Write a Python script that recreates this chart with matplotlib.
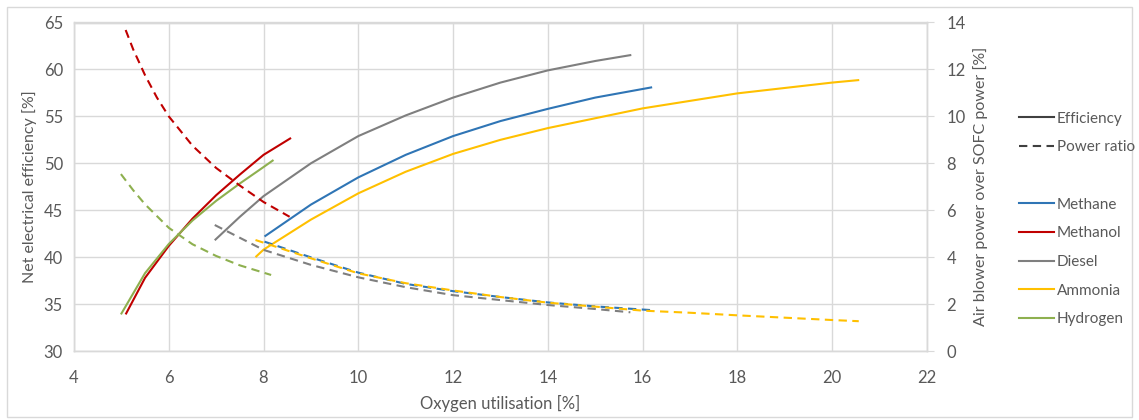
import matplotlib
matplotlib.use("Agg")
import matplotlib.pyplot as plt
from matplotlib.lines import Line2D
from matplotlib.patches import Rectangle

plt.rcParams['font.family'] = ['Lato', 'DejaVu Sans']

# ---------------- data ----------------
fuels = ["Methane", "Methanol", "Diesel", "Ammonia", "Hydrogen"]
colors = ["#2F75B5", "#C00000", "#7F7F7F", "#FFC000", "#8EB04F"]

# Net electrical efficiency [%] (left axis)
eff_methane_x = [8.02, 9, 10, 11, 12, 13, 14, 15, 16.2]
eff_methane_y = [42.2, 45.6, 48.5, 50.9, 52.9, 54.5, 55.8, 57.0, 58.1]
eff_methanol_x = [5.09, 5.5, 6.0, 6.5, 7.0, 7.5, 8.0, 8.58]
eff_methanol_y = [33.9, 37.8, 41.2, 44.1, 46.6, 48.8, 50.9, 52.7]
eff_diesel_x = [6.97, 7.5, 8, 9, 10, 11, 12, 13, 14, 15, 15.76]
eff_diesel_y = [41.8, 44.3, 46.5, 50.0, 52.9, 55.1, 57.0, 58.6, 59.9, 60.9, 61.54]
eff_ammonia_x = [7.83, 8, 9, 10, 11, 12, 13, 14, 16, 18, 20, 20.57]
eff_ammonia_y = [40.0, 40.8, 44.0, 46.8, 49.1, 51.0, 52.5, 53.75, 55.85, 57.45, 58.6, 58.87]
eff_hydrogen_x = [4.99, 5.5, 6.0, 6.5, 7.0, 7.5, 8.0, 8.21]
eff_hydrogen_y = [33.9, 38.3, 41.4, 43.9, 46.0, 47.85, 49.6, 50.35]

# Air blower power over SOFC power [%] (right axis)
pr_methane_x = [8.02, 9, 10, 11, 12, 13, 14, 15, 16.2]
pr_methane_y = [4.66, 3.99, 3.34, 2.86, 2.55, 2.3, 2.07, 1.9, 1.74]
pr_methanol_x = [5.09, 5.25, 5.5, 5.75, 6.0, 6.5, 7.0, 7.5, 8.0, 8.55]
pr_methanol_y = [13.68, 12.85, 11.75, 10.8, 10.0, 8.75, 7.8, 7.05, 6.35, 5.72]
pr_diesel_x = [6.97, 8, 9, 10, 11, 12, 13, 14, 15, 15.74]
pr_diesel_y = [5.37, 4.31, 3.67, 3.14, 2.72, 2.38, 2.17, 1.96, 1.79, 1.65]
pr_ammonia_x = [7.83, 9, 10, 11, 12, 13, 14, 16, 17, 18, 20, 20.56]
pr_ammonia_y = [4.73, 3.95, 3.31, 2.89, 2.58, 2.3, 2.06, 1.72, 1.63, 1.52, 1.32, 1.27]
pr_hydrogen_x = [4.99, 5.25, 5.5, 6.0, 6.5, 7.0, 7.5, 8.16]
pr_hydrogen_y = [7.54, 6.85, 6.25, 5.25, 4.55, 4.05, 3.65, 3.24]

eff_x = [eff_methane_x, eff_methanol_x, eff_diesel_x, eff_ammonia_x, eff_hydrogen_x]
eff_y = [eff_methane_y, eff_methanol_y, eff_diesel_y, eff_ammonia_y, eff_hydrogen_y]
pr_x = [pr_methane_x, pr_methanol_x, pr_diesel_x, pr_ammonia_x, pr_hydrogen_x]
pr_y = [pr_methane_y, pr_methanol_y, pr_diesel_y, pr_ammonia_y, pr_hydrogen_y]

x_ticks = [4, 6, 8, 10, 12, 14, 16, 18, 20, 22]
left_ticks = [30, 35, 40, 45, 50, 55, 60, 65]
right_ticks = [0, 2, 4, 6, 8, 10, 12, 14]

# ---------------- figure ----------------
W, H = 1139, 420
fig = plt.figure(figsize=(W / 100, H / 100), dpi=100)
fig.patch.set_facecolor("white")
fig.patches.append(Rectangle((7 / W, 3 / H), 1 - 14 / W, 1 - 10 / H,
                             transform=fig.transFigure, fill=False,
                             edgecolor="#D9D9D9", linewidth=1.0))

ax = fig.add_axes([74 / W, 69 / H, 853 / W, 328.5 / H])
ax2 = ax.twinx()

grid_c = "#D9D9D9"
text_c = "#595959"
dash = (0, (4, 2.6))
lw = 1.5

for xs, ys, c in zip(eff_x, eff_y, colors):
    ax.plot(xs, ys, color=c, lw=lw, solid_capstyle="butt", solid_joinstyle="round")
for xs, ys, c in zip(pr_x, pr_y, colors):
    ax2.plot(xs, ys, color=c, lw=lw, linestyle=dash, dash_capstyle="butt",
             dash_joinstyle="round")

ax.set_xlim(4, 22)
ax.set_ylim(30, 65)
ax2.set_ylim(0, 14)
ax.set_xticks(x_ticks)
ax.set_yticks(left_ticks)
ax2.set_yticks(right_ticks)

ax.grid(True, color=grid_c, lw=1.0)
ax.set_axisbelow(True)
for a in (ax, ax2):
    for s in a.spines.values():
        s.set_color(grid_c)
        s.set_linewidth(1.0)
ax.tick_params(axis="y", length=0, labelsize=12, labelcolor=text_c, pad=8)
ax.tick_params(axis="x", length=0, labelsize=12, labelcolor=text_c, pad=14)
ax2.tick_params(axis="y", length=5, color=grid_c, labelsize=12,
                labelcolor=text_c, pad=9)

ax.set_xlabel("Oxygen utilisation [%]", fontsize=12, color=text_c, labelpad=6)
ax.set_ylabel("Net electrical efficiency [%]", fontsize=11.5, color=text_c, labelpad=5)
ax2.set_ylabel("Air blower power over SOFC power [%]", fontsize=11.5,
               color=text_c, labelpad=5)

# ---------------- legend ----------------
handles = [Line2D([], [], color="#404040", lw=lw),
           Line2D([], [], color="#404040", lw=lw, linestyle=dash),
           Line2D([], [], color="none", lw=0)]
labels = ["Efficiency", "Power ratio", ""]
for f, c in zip(fuels, colors):
    handles.append(Line2D([], [], color=c, lw=lw))
    labels.append(f)
leg = fig.legend(handles, labels, loc="upper left",
                 bbox_to_anchor=(1011 / W, 1 - 104 / H),
                 frameon=False, fontsize=11, handlelength=2.3,
                 handletextpad=0.2, labelspacing=0.96, borderpad=0)
for t in leg.get_texts():
    t.set_color(text_c)

fig.savefig("out.png", dpi=100, facecolor="white")
